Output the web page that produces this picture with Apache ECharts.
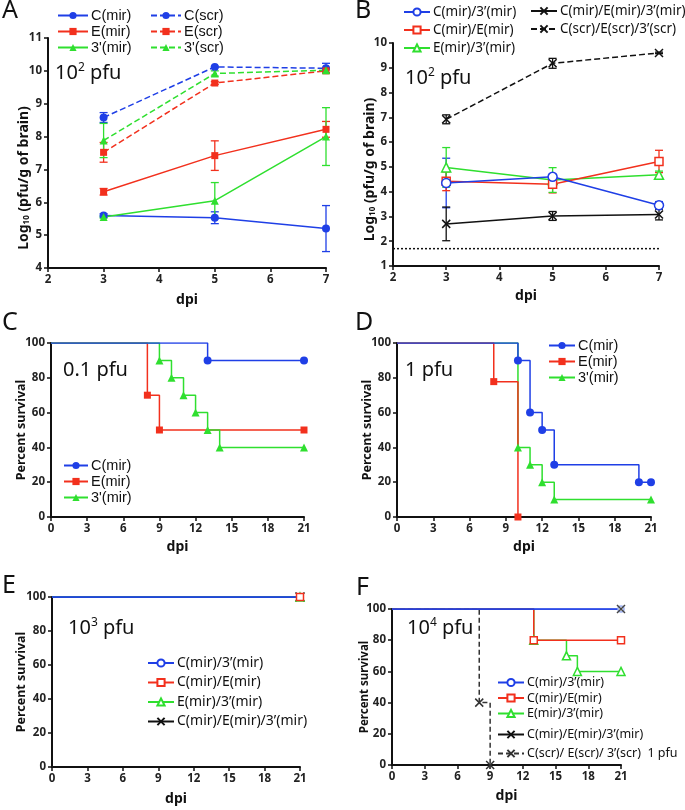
<!DOCTYPE html>
<html><head><meta charset="utf-8">
<script src="https://cdn.jsdelivr.net/npm/echarts@6/dist/echarts.min.js"></script>
<style>html,body{margin:0;padding:0;background:#fff}#c{width:685px;height:810px}</style>
</head><body><div id="c"></div>
<script>
// ---------- DATA ----------
// Panel A (10^2 pfu), days post infection
const A_days = [3, 5, 7];
const A_Cmir = [5.6, 5.53, 5.2],   A_Cmir_err = [0.05, 0.18, 0.7];
const A_Emir = [6.32, 7.42, 8.22], A_Emir_err = [0.1, 0.45, 0.24];
const A_3mir = [5.55, 6.05, 8.0],  A_3mir_err = [0.03, 0.55, 0.88];
const A_Cscr = [8.58, 10.12, 10.08], A_Cscr_err = [0.15, 0.02, 0.15];
const A_Escr = [7.52, 9.63, 10.0],   A_Escr_err = [0.3, 0.04, 0.06];
const A_3scr = [7.88, 9.92, 10.02],  A_3scr_err = [0.52, 0.08, 0.08];
// Panel B (10^2 pfu)
const B_days = [3, 5, 7];
const B_C3  = [4.35, 4.6, 3.45],  B_C3_err  = [1.0, 0.1, 0.15];
const B_CE  = [4.42, 4.3, 5.22],  B_CE_err  = [0.38, 0.35, 0.45];
const B_E3  = [4.98, 4.47, 4.68], B_E3_err  = [0.8, 0.5, 0.15];
const B_CE3 = [2.7, 3.02, 3.08],  B_CE3_err = [0.68, 0.18, 0.22];
const B_scr = [6.92, 9.18, 9.6],  B_scr_err = [0.18, 0.2, 0.03];
const B_limitDays = [2, 7], B_limit = [1.7, 1.7];
// Panel C (0.1 pfu) survival: day / percent
const C_Cmir_t = [0, 13, 21], C_Cmir_s = [100, 90, 90];
const C_Emir_t = [0, 8, 9, 21], C_Emir_s = [100, 70, 50, 50];
const C_3mir_t = [0, 9, 10, 11, 12, 13, 14, 21], C_3mir_s = [100, 90, 80, 70, 60, 50, 40, 40];
// Panel D (1 pfu)
const D_Cmir_t = [0, 10, 11, 12, 13, 20, 21], D_Cmir_s = [100, 90, 60, 50, 30, 20, 20];
const D_Emir_t = [0, 8, 10], D_Emir_s = [100, 77.8, 0];
const D_3mir_t = [0, 10, 11, 12, 13, 21], D_3mir_s = [100, 40, 30, 20, 10, 10];
// Panel E (10^3 pfu)
const E_C3_t = [0, 21], E_C3_s = [100, 100];
const E_CE_t = [0, 21], E_CE_s = [100, 100];
const E_E3_t = [0, 21], E_E3_s = [100, 100];
const E_CE3_t = [0, 21], E_CE3_s = [100, 100];
// Panel F (10^4 pfu)
const F_C3_t = [0, 21], F_C3_s = [100, 100];
const F_CE_t = [0, 13, 21], F_CE_s = [100, 80, 80];
const F_E3_t = [0, 13, 16, 17, 21], F_E3_s = [100, 80, 70, 60, 60];
const F_CE3_t = [0, 21], F_CE3_s = [100, 100];
const F_scr_t = [0, 8, 9], F_scr_s = [100, 40, 0];
// tick ranges
const A_yTicks = [4, 11], B_yTicks = [1, 10], logXTicks = [2, 7];
const survX = [0, 21], survY = [0, 100];

// ---------- STYLE ----------
const BLUE = '#1f3fe6', RED = '#f2301d', GREEN = '#2fdf2f', BLACK = '#111', PALEBLUE = '#9fb2f2';
const XSYM = 'path://M0,0L10,10M0,10L10,0';
const FONT = 'Noto Sans';
const chart = echarts.init(document.getElementById('c'));

const grids = [
  {left: 48, top: 38, width: 278, height: 230},
  {left: 393, top: 43, width: 266, height: 223},
  {left: 51, top: 343, width: 253, height: 174},
  {left: 397, top: 343, width: 254, height: 174},
  {left: 52, top: 597, width: 248, height: 170},
  {left: 392, top: 609, width: 229, height: 156}
].map(g => Object.assign(g, {containLabel: false, outerBoundsMode: 'none'}));

const axLine = {show: true, onZero: false, lineStyle: {color: '#111', width: 2}};
const axTick = {show: true, length: 4, lineStyle: {color: '#111', width: 1.5}};
const axLabel = {color: '#222', fontWeight: 'bold', fontSize: 11.5, fontFamily: FONT, margin: 6};
function nameStyle(fs) { return {color: '#111', fontWeight: 'bold', fontSize: fs, fontFamily: FONT}; }

function xAx(i, mn, mx, iv, gap) {
  return {type: 'value', gridIndex: i, min: mn, max: mx, interval: iv, name: 'dpi', nameLocation: 'middle',
    nameGap: gap, nameMoveOverlap: false, nameTextStyle: nameStyle(14), axisLine: axLine, axisTick: axTick,
    axisLabel: axLabel, splitLine: {show: false}};
}
function yAx(i, mn, mx, iv, name, gap, fs, shift) {
  const ns = nameStyle(fs);
  ns.rich = {sub: {fontSize: Math.round(fs * 0.55), fontWeight: 'bold', fontFamily: FONT, color: '#111', verticalAlign: 'bottom', padding: [4, 0, 0, 0]}};
  if (shift) ns.padding = [0, shift, 0, 0];
  return {type: 'value', gridIndex: i, min: mn, max: mx, interval: iv, name: name, nameLocation: 'middle',
    nameGap: gap, nameMoveOverlap: false, nameTextStyle: ns, axisLine: axLine, axisTick: axTick,
    axisLabel: axLabel, splitLine: {show: false}};
}

const xAxis = [
  xAx(0, logXTicks[0], logXTicks[1], 1, 25), xAx(1, logXTicks[0], logXTicks[1], 1, 23),
  xAx(2, survX[0], survX[1], 3, 23), xAx(3, survX[0], survX[1], 3, 23),
  xAx(4, survX[0], survX[1], 3, 25), xAx(5, survX[0], survX[1], 3, 24)
];
const logName = 'Log{sub|10} (pfu/g of brain)';
const yAxis = [
  yAx(0, A_yTicks[0], A_yTicks[1], 1, logName, 17, 14, 50), yAx(1, B_yTicks[0], B_yTicks[1], 1, logName, 16, 14, 30),
  yAx(2, survY[0], survY[1], 20, 'Percent survival', 23, 12.5), yAx(3, survY[0], survY[1], 20, 'Percent survival', 23, 12.5),
  yAx(4, survY[0], survY[1], 20, 'Percent survival', 24, 12.5), yAx(5, survY[0], survY[1], 20, 'Percent survival', 21, 11.5)
];

const series = [];
function zip(xs, ys) { return xs.map((x, i) => [x, ys[i]]); }
function lineS(gi, name, xs, ys, color, sym, size, dashed, filled) {
  series.push({
    type: 'line', name: name, xAxisIndex: gi, yAxisIndex: gi, data: zip(xs, ys),
    symbol: sym, symbolSize: size, showSymbol: true,
    lineStyle: {color: color, width: 1.5, type: dashed ? [6, 3] : 'solid'},
    itemStyle: {color: filled ? color : '#fff', borderColor: color, borderWidth: filled ? 0 : 1.5},
    emphasis: {disabled: true}, animation: false, z: 3
  });
}
function xLine(gi, name, xs, ys, dashed, size) {
  series.push({
    type: 'line', name: name, xAxisIndex: gi, yAxisIndex: gi, data: zip(xs, ys),
    symbol: XSYM, symbolSize: size,
    lineStyle: {color: BLACK, width: 1.5, type: dashed ? [6, 3] : 'solid'},
    itemStyle: {color: BLACK, borderColor: BLACK, borderWidth: 1.5},
    emphasis: {disabled: true}, animation: false, z: 3
  });
}
function errS(gi, xs, ys, errs, color) {
  series.push({
    type: 'custom', xAxisIndex: gi, yAxisIndex: gi, silent: true, animation: false, z: 2,
    data: xs.map((x, i) => [x, ys[i] - errs[i], ys[i] + errs[i]]),
    encode: {x: 0, y: [1, 2]},
    renderItem: function (params, api) {
      const x = api.value(0);
      const lo = api.coord([x, api.value(1)]), hi = api.coord([x, api.value(2)]);
      const w = 4, st = {stroke: color, lineWidth: 1.3};
      return {type: 'group', children: [
        {type: 'line', shape: {x1: lo[0], y1: lo[1], x2: hi[0], y2: hi[1]}, style: st},
        {type: 'line', shape: {x1: lo[0] - w, y1: lo[1], x2: lo[0] + w, y2: lo[1]}, style: st},
        {type: 'line', shape: {x1: hi[0] - w, y1: hi[1], x2: hi[0] + w, y2: hi[1]}, style: st}
      ]};
    }
  });
}
function kmS(gi, name, ts, ss, color, sym, size, dashed, filled, isX, symColor) {
  const data = ts.map((t, i) => i === 0 ? {value: [t, ss[i]], symbol: 'none'} : [t, ss[i]]);
  const sc = symColor || color;
  series.push({
    type: 'line', name: name, xAxisIndex: gi, yAxisIndex: gi, data: data, step: 'end',
    symbol: isX ? XSYM : sym, symbolSize: size,
    lineStyle: {color: color, width: 1.5, type: dashed ? [5, 3] : 'solid'},
    itemStyle: isX ? {color: sc, borderColor: sc, borderWidth: 1.5}
                   : {color: filled ? sc : '#fff', borderColor: sc, borderWidth: filled ? 0 : 1.5},
    emphasis: {disabled: true}, animation: false, z: 3
  });
}

// Panel A
errS(0, A_days, A_Cscr, A_Cscr_err, BLUE); errS(0, A_days, A_Escr, A_Escr_err, RED); errS(0, A_days, A_3scr, A_3scr_err, GREEN);
errS(0, A_days, A_Cmir, A_Cmir_err, BLUE); errS(0, A_days, A_Emir, A_Emir_err, RED); errS(0, A_days, A_3mir, A_3mir_err, GREEN);
lineS(0, 'C(scr)', A_days, A_Cscr, BLUE, 'circle', 8, true, true);
lineS(0, 'E(scr)', A_days, A_Escr, RED, 'rect', 7, true, true);
lineS(0, "3'(scr)", A_days, A_3scr, GREEN, 'triangle', 8, true, true);
lineS(0, 'C(mir)', A_days, A_Cmir, BLUE, 'circle', 8, false, true);
lineS(0, 'E(mir)', A_days, A_Emir, RED, 'rect', 7, false, true);
lineS(0, "3'(mir)", A_days, A_3mir, GREEN, 'triangle', 8, false, true);

// Panel B
series.push({type: 'line', xAxisIndex: 1, yAxisIndex: 1, data: zip(B_limitDays, B_limit), symbol: 'none', silent: true,
  lineStyle: {color: BLACK, width: 1.5, type: [2, 2]}, animation: false, z: 1});
errS(1, B_days, B_C3, B_C3_err, BLUE); errS(1, B_days, B_CE, B_CE_err, RED); errS(1, B_days, B_E3, B_E3_err, GREEN);
errS(1, B_days, B_CE3, B_CE3_err, BLACK); errS(1, B_days, B_scr, B_scr_err, BLACK);
lineS(1, 'E(mir)/3’(mir)', B_days, B_E3, GREEN, 'triangle', 9, false, false);
lineS(1, 'C(mir)/E(mir)', B_days, B_CE, RED, 'rect', 8, false, false);
lineS(1, 'C(mir)/3’(mir)', B_days, B_C3, BLUE, 'circle', 9, false, false);
xLine(1, 'C(mir)/E(mir)/3’(mir)', B_days, B_CE3, false, 8);
xLine(1, 'C(scr)/E(scr)/3’(scr)', B_days, B_scr, true, 8);

// Panel C
kmS(2, 'E(mir)', C_Emir_t, C_Emir_s, RED, 'rect', 7, false, true);
kmS(2, "3'(mir)", C_3mir_t, C_3mir_s, GREEN, 'triangle', 8, false, true);
kmS(2, 'C(mir)', C_Cmir_t, C_Cmir_s, BLUE, 'circle', 8, false, true);
// Panel D
kmS(3, "3'(mir)", D_3mir_t, D_3mir_s, GREEN, 'triangle', 8, false, true);
kmS(3, 'E(mir)', D_Emir_t, D_Emir_s, RED, 'rect', 7, false, true);
kmS(3, 'C(mir)', D_Cmir_t, D_Cmir_s, BLUE, 'circle', 8, false, true);
// Panel E
kmS(4, 'C(mir)/E(mir)/3’(mir)', E_CE3_t, E_CE3_s, BLACK, null, 9, false, false, true);
kmS(4, 'E(mir)/3’(mir)', E_E3_t, E_E3_s, GREEN, 'triangle', 8, false, false);
kmS(4, 'C(mir)/3’(mir)', E_C3_t, E_C3_s, BLUE, 'circle', 6, false, false, false, PALEBLUE);
kmS(4, 'C(mir)/E(mir)', E_CE_t, E_CE_s, BLUE, 'rect', 7, false, false, false, RED);
// Panel F
kmS(5, 'C(scr)/ E(scr)/ 3’(scr)  1 pfu', F_scr_t, F_scr_s, '#333', null, 8, true, false, true);
kmS(5, 'E(mir)/3’(mir)', F_E3_t, F_E3_s, GREEN, 'triangle', 8, false, false);
kmS(5, 'C(mir)/E(mir)', F_CE_t, F_CE_s, RED, 'rect', 7, false, false);
kmS(5, 'C(mir)/3’(mir)', F_C3_t, F_C3_s, BLUE, 'circle', 6, false, false, false, PALEBLUE);
kmS(5, 'C(mir)/E(mir)/3’(mir)', F_CE3_t, F_CE3_s, BLUE, null, 8, false, false, true, '#444');

function leg(left, top, data, fs, lh, gap, family, iw) {
  return {left: left, top: top, orient: 'vertical', data: data, padding: 0, itemGap: gap,
    itemWidth: iw || 30, itemHeight: 9, selectedMode: false,
    textStyle: {fontSize: fs, lineHeight: lh, fontFamily: family, color: '#111', padding: [0, 0, 0, -2]}};
}
const legend = [
  leg(57, 8, ['C(mir)', 'E(mir)', "3'(mir)"], 14.5, 14, 1, 'Liberation Sans'),
  leg(150, 8, ['C(scr)', 'E(scr)', "3'(scr)"], 14.5, 14, 1, 'Liberation Sans'),
  leg(403, 4, ['C(mir)/3’(mir)', 'C(mir)/E(mir)', 'E(mir)/3’(mir)'], 13.5, 16, 2, FONT, 26),
  leg(530, 3, ['C(mir)/E(mir)/3’(mir)', 'C(scr)/E(scr)/3’(scr)'], 13.5, 16, 2, FONT, 26),
  leg(63, 458, ['C(mir)', 'E(mir)', "3'(mir)"], 14.5, 14, 1, 'Liberation Sans', 24),
  leg(548, 338, ['C(mir)', 'E(mir)', "3'(mir)"], 14.5, 14, 1, 'Liberation Sans', 26),
  leg(147, 654, ['C(mir)/3’(mir)', 'C(mir)/E(mir)', 'E(mir)/3’(mir)', 'C(mir)/E(mir)/3’(mir)'], 14, 18, 1.5, FONT, 26),
  leg(497, 675, ['C(mir)/3’(mir)', 'C(mir)/E(mir)', 'E(mir)/3’(mir)'], 12.5, 15, 0.5, FONT, 26),
  leg(497, 726, ['C(mir)/E(mir)/3’(mir)', 'C(scr)/ E(scr)/ 3’(scr)  1 pfu'], 12.5, 17, 2, FONT, 26)
];

const supRich = {sup: {fontSize: 12, fontFamily: FONT, color: '#111', verticalAlign: 'top', padding: [0, 0, 10, 0]}};
function ttl(text, left, top, fs) {
  return {text: text, left: left, top: top, padding: 0,
    textStyle: {fontSize: fs, fontWeight: 'normal', fontFamily: FONT, color: '#111', rich: supRich}};
}
const title = [
  ttl('A', 2, -2, 25), ttl('B', 355, -2, 25), ttl('C', 2, 310, 25), ttl('D', 355, 310, 25),
  ttl('E', 2, 573, 25), ttl('F', 356, 575, 25),
  ttl('10{sup|2} pfu', 55, 62, 20), ttl('10{sup|2} pfu', 405, 67, 20),
  ttl('0.1 pfu', 63, 360, 20), ttl('1 pfu', 405, 360, 20),
  ttl('10{sup|3} pfu', 68, 617, 20), ttl('10{sup|4} pfu', 407, 617, 20)
];

chart.setOption({animation: false, backgroundColor: '#fff', grid: grids, xAxis: xAxis, yAxis: yAxis,
  series: series, legend: legend, title: title});
</script></body></html>
